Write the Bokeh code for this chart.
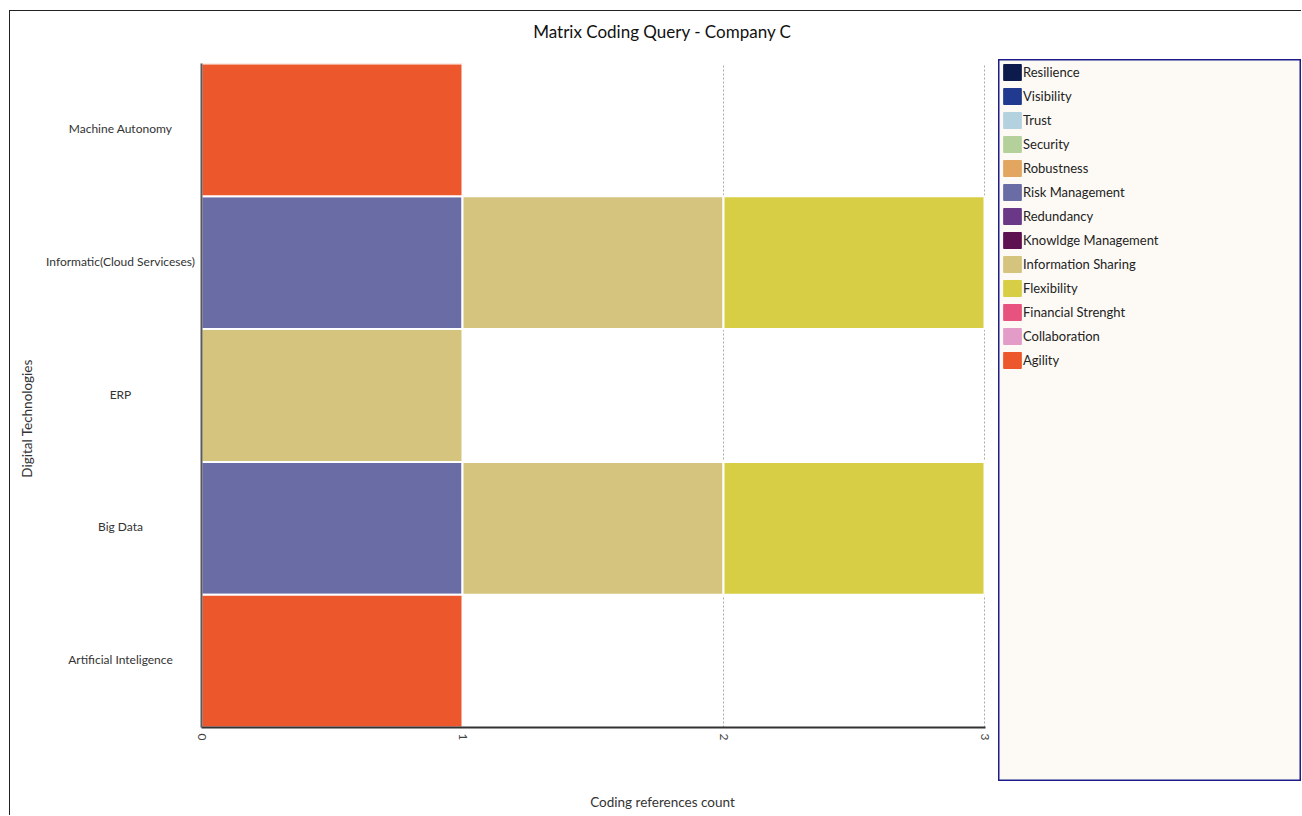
import math
from bokeh.plotting import figure
from bokeh.models import (ColumnDataSource, Legend, LegendItem,
                          FixedTicker, Range1d, Spacer)
from bokeh.layouts import row, column
from bokeh.core.properties import value
from bokeh.embed import file_html
from bokeh.resources import INLINE

# ---------------- data ----------------
technologies = ["Machine Autonomy", "Informatic(Cloud Serviceses)", "ERP",
                "Big Data", "Artificial Inteligence"]          # top to bottom
codes = ["Resilience", "Visibility", "Trust", "Security", "Robustness",
         "Risk Management", "Redundancy", "Knowldge Management",
         "Information Sharing", "Flexibility", "Financial Strenght",
         "Collaboration", "Agility"]
code_colors = ["#0d1b4c", "#213a8f", "#b3d1df", "#b4d19b", "#e2a660",
               "#6a6ca5", "#6a3886", "#5d1150", "#d4c47e", "#d8ce45",
               "#e8527f", "#e39cc8", "#ed572c"]
# coding reference counts per code, one value per technology (top to bottom)
counts = {
    "Resilience":          [0, 0, 0, 0, 0],
    "Visibility":          [0, 0, 0, 0, 0],
    "Trust":               [0, 0, 0, 0, 0],
    "Security":            [0, 0, 0, 0, 0],
    "Robustness":          [0, 0, 0, 0, 0],
    "Risk Management":     [0, 1, 0, 1, 0],
    "Redundancy":          [0, 0, 0, 0, 0],
    "Knowldge Management": [0, 0, 0, 0, 0],
    "Information Sharing": [0, 1, 1, 1, 0],
    "Flexibility":         [0, 1, 0, 1, 0],
    "Financial Strenght":  [0, 0, 0, 0, 0],
    "Collaboration":       [0, 0, 0, 0, 0],
    "Agility":             [1, 0, 0, 0, 1],
}
x_ticks = [0, 1, 2, 3]
title_text = "Matrix Coding Query - Company C"
x_title = "Coding references count"
y_title = "Digital Technologies"

FONT = "Lato"

# ---------------- layout constants (page pixels) ----------------
PAGE_LEFT, PAGE_TOP = 10, 11          # content origin inside outer border
FR_L, FR_R, FR_T, FR_B = 201, 985, 63, 727
BAR_END_PX = 984                      # pixel where the value 3 lies
LEG_X0 = 998
TOTAL_H = 804
TOP_H = FR_T - PAGE_TOP               # title strip
AXIS_H = 30                           # space for x tick labels
MAIN_H = (FR_B - FR_T) + AXIS_H
BOT_H = TOTAL_H - TOP_H - MAIN_H      # x title strip
MAIN_X0 = 196
LEFT_W = MAIN_X0 - PAGE_LEFT
MAIN_W = LEG_X0 - MAIN_X0
LEFT_COL_W = LEG_X0 - PAGE_LEFT
n = len(technologies)
XMAX = max(x_ticks)
XEND = XMAX * (FR_R - FR_L) / (BAR_END_PX - FR_L)

ypos = [n - 1 - i for i in range(n)]

def px_y(py):
    return -0.5 + (FR_B - py) / (FR_B - FR_T) * n

def strip(height, top_px):
    f = figure(width=LEFT_COL_W, height=height, output_backend="svg",
               toolbar_location=None, min_border=0,
               x_range=Range1d(PAGE_LEFT, LEG_X0),
               y_range=Range1d(top_px + height, top_px))
    f.axis.visible = False
    f.grid.grid_line_color = None
    f.outline_line_color = None
    return f

# ---------------- title strip ----------------
top = strip(TOP_H, PAGE_TOP)
top.text(x=[662], y=[30.5], text=[title_text], text_align="center",
         text_baseline="middle", text_font=value(FONT), text_font_size="17px",
         text_color="#111111")

# ---------------- main plot ----------------
p = figure(width=MAIN_W, height=MAIN_H, output_backend="svg", toolbar_location=None,
           x_range=Range1d(0, XEND), y_range=Range1d(-0.5, n - 0.5),
           min_border_left=FR_L - MAIN_X0, min_border_right=LEG_X0 - FR_R,
           min_border_top=0, min_border_bottom=AXIS_H)
p.outline_line_color = None
p.background_fill_color = "white"
p.border_fill_color = "white"

running = [0] * n
for code, col in zip(codes, code_colors):
    ys, ls, rs = [], [], []
    for i, v in enumerate(counts[code]):
        if v > 0:
            ys.append(ypos[i]); ls.append(running[i]); rs.append(running[i] + v)
            running[i] += v
    src = ColumnDataSource(dict(y=ys, left=ls, right=rs))
    p.hbar(y="y", left="left", right="right", height=1.0, source=src,
           fill_color=col, line_color="white", line_width=2)

p.xaxis.ticker = FixedTicker(ticks=x_ticks)
p.xaxis.major_label_orientation = -math.pi / 2
p.xaxis.major_label_text_font = FONT
p.xaxis.major_label_text_font_size = "12px"
p.xaxis.major_label_text_color = "#444444"
p.xaxis.major_tick_out = 0
p.xaxis.major_tick_in = 0
p.xaxis.minor_tick_line_color = None
p.xaxis.axis_line_color = "#333333"
p.xaxis.axis_line_width = 2
p.xaxis.major_label_standoff = 6

p.yaxis.ticker = FixedTicker(ticks=[])
p.yaxis.minor_tick_line_color = None
p.yaxis.major_tick_line_color = None
p.yaxis.major_tick_out = 0
p.yaxis.major_label_standoff = 0
p.yaxis.axis_line_color = "#5a5a5a"
p.yaxis.axis_line_width = 2
p.yaxis.major_label_text_font_size = "0px"

p.xgrid.grid_line_color = "#aaaaaa"
p.xgrid.grid_line_dash = "2 2"
p.ygrid.grid_line_color = None

# ---------------- left label column ----------------
lf = figure(width=LEFT_W, height=MAIN_H, output_backend="svg", toolbar_location=None,
            x_range=Range1d(PAGE_LEFT, MAIN_X0), y_range=Range1d(-0.5, n - 0.5),
            min_border_left=0, min_border_right=0,
            min_border_top=0, min_border_bottom=AXIS_H)
lf.axis.visible = False
lf.grid.grid_line_color = None
lf.outline_line_color = None
lf.text(x=[120] * n, y=ypos, text=technologies, text_align="center",
        text_baseline="middle", y_offset=-1.5, text_font=value(FONT),
        text_font_size="12px", text_color="#333333")
lf.text(x=[26], y=[px_y(418)], text=[y_title], angle=math.pi / 2,
        text_align="center", text_baseline="middle", text_font=value(FONT),
        text_font_size="13.5px", text_color="#333333")

# ---------------- x title strip ----------------
bot = strip(BOT_H, PAGE_TOP + TOP_H + MAIN_H)
bot.text(x=[662], y=[801.5], text=[x_title], text_align="center",
         text_baseline="middle", text_font=value(FONT), text_font_size="13.5px",
         text_color="#333333")

# ---------------- legend panel ----------------
lp = figure(width=303, height=722, output_backend="svg", toolbar_location=None,
            x_range=Range1d(0, 1), y_range=Range1d(1000, 1001), min_border=0)
lp.axis.visible = False
lp.grid.grid_line_color = None
lp.background_fill_color = "#fdfaf5"
lp.border_fill_color = "#fdfaf5"
lp.outline_line_color = "#1c1c8a"
lp.outline_line_width = 2

items = []
for k, (code, col) in enumerate(zip(codes, code_colors)):
    total = sum(counts[code])
    # swatch renderer (kept outside the visible range of the legend panel)
    r = lp.hbar(y=[k], right=[total], height=0.5, fill_color=col, line_color=col)
    items.append(LegendItem(label=code, renderers=[r]))
leg = Legend(items=items, location="top_left", margin=3, padding=1,
             glyph_width=22, glyph_height=20, label_height=20, spacing=4,
             label_standoff=0, label_text_font=FONT, label_text_font_size="13px",
             label_text_color="#222222", background_fill_alpha=0,
             border_line_color=None)
lp.add_layout(leg)

left_col = column(top, row(lf, p), bot)
layout = row(left_col, column(Spacer(height=FR_T - 4 - PAGE_TOP, width=303), lp),
             styles={"border-left": "1px solid #222", "border-top": "1px solid #222"},
             margin=(10, 0, 0, 9))

open("out.html", "w").write(file_html(layout, INLINE))
